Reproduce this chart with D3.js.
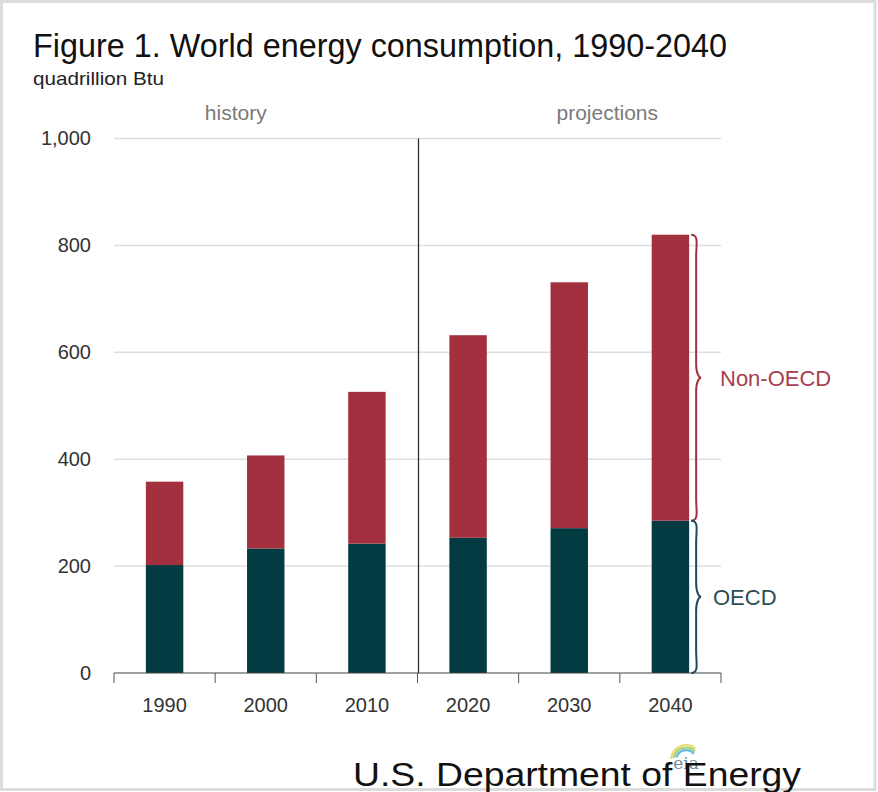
<!DOCTYPE html>
<html>
<head>
<meta charset="utf-8">
<script src="https://cdn.jsdelivr.net/npm/d3@7"></script>
<style>
  html, body { margin: 0; padding: 0; background: #fff; }
  svg { display: block; font-family: "Liberation Sans", Arial, sans-serif; }
</style>
</head>
<body>
<svg id="chart" width="878" height="792"></svg>
<script>
// World energy consumption by region, quadrillion Btu
const years = ["1990", "2000", "2010", "2020", "2030", "2040"];
const oecd = [202, 233, 242, 253, 271, 285];
const nonOecd = [156, 174, 284, 379, 460, 535];
const yTicks = [0, 200, 400, 600, 800, 1000];
const periods = [
  { label: "history", anchor: "2000", shift: -30 },
  { label: "projections", anchor: "2030", shift: 38 }
];

const colors = { oecd: "#033b42", nonOecd: "#a3303f", oecdText: "#2d4d54", nonText: "#a8404f" };

const svg = d3.select("#chart");
const W = 878, H = 792;

// outer frame
svg.append("rect")
  .attr("x", 1.5).attr("y", 1.5)
  .attr("width", W - 4.5).attr("height", H - 4)
  .attr("fill", "#fff").attr("stroke", "#dcdcdc").attr("stroke-width", 3);

const x = d3.scaleBand().domain(years).range([114, 721]).paddingInner(0.63).paddingOuter(0.315);
const y = d3.scaleLinear().domain([0, 1000]).range([673, 138.5]);

// titles (condensed to the narrow face used in the report)
svg.append("text")
  .attr("x", 33).attr("y", 57)
  .attr("font-size", 33).attr("fill", "#111")
  .attr("textLength", 694).attr("lengthAdjust", "spacingAndGlyphs")
  .text("Figure 1. World energy consumption, 1990-2040");
svg.append("text")
  .attr("x", 33).attr("y", 85)
  .attr("font-size", 19).attr("fill", "#222")
  .attr("textLength", 131).attr("lengthAdjust", "spacingAndGlyphs")
  .text("quadrillion  Btu");

// gridlines
svg.append("g")
  .selectAll("line")
  .data(yTicks.filter(d => d > 0))
  .join("line")
  .attr("x1", 114).attr("x2", 721)
  .attr("y1", d => y(d)).attr("y2", d => y(d))
  .attr("stroke", "#dedede").attr("stroke-width", 1.5);

// y-axis labels
const yAxis = d3.axisLeft(y).tickValues(yTicks).tickSize(0).tickPadding(0)
  .tickFormat(d3.format(","));
const gy = svg.append("g").attr("transform", "translate(91,0)").call(yAxis);
gy.select(".domain").remove();
gy.selectAll("text").attr("font-size", 20).attr("fill", "#333")
  .attr("font-family", "'Liberation Sans', Arial, sans-serif");

// stacked bars
const stackData = years.map((yr, i) => ({ year: yr, oecd: oecd[i], nonOecd: nonOecd[i] }));
const series = d3.stack().keys(["oecd", "nonOecd"])(stackData);
svg.append("g")
  .selectAll("g")
  .data(series)
  .join("g")
  .attr("fill", d => colors[d.key])
  .selectAll("rect")
  .data(d => d)
  .join("rect")
  .attr("x", d => x(d.data.year))
  .attr("width", x.bandwidth())
  .attr("y", d => y(d[1]))
  .attr("height", d => y(d[0]) - y(d[1]));

// x-axis with ticks between categories
const xAxisY = y(0);
svg.append("line")
  .attr("x1", 114).attr("x2", 721).attr("y1", xAxisY).attr("y2", xAxisY)
  .attr("stroke", "#444").attr("stroke-width", 1.2);
const boundaries = d3.range(years.length + 1).map(i => 114 + i * (607 / years.length));
svg.append("g").selectAll("line")
  .data(boundaries)
  .join("line")
  .attr("x1", d => d).attr("x2", d => d)
  .attr("y1", xAxisY).attr("y2", xAxisY + 10)
  .attr("stroke", "#555").attr("stroke-width", 1);
svg.append("g").selectAll("text")
  .data(years)
  .join("text")
  .attr("x", d => x(d) + x.bandwidth() / 2)
  .attr("y", 712)
  .attr("text-anchor", "middle")
  .attr("font-size", 20).attr("fill", "#333")
  .text(d => d);

// history / projections divider
const divX = boundaries[3] + 1;
svg.append("line")
  .attr("x1", divX).attr("x2", divX)
  .attr("y1", y(1000)).attr("y2", xAxisY)
  .attr("stroke", "#333").attr("stroke-width", 1.3);

periods.forEach(p => {
  svg.append("text")
    .attr("x", x(p.anchor) + x.bandwidth() / 2 + p.shift).attr("y", 120)
    .attr("text-anchor", "middle")
    .attr("font-size", 21).attr("fill", "#7a7a7a")
    .text(p.label);
});

// curly braces for the last bar
function bracePath(x0, y0, y1, depth) {
  const mid = (y0 + y1) / 2;
  const d = depth;
  return `M${x0},${y0}` +
    ` C${x0 + d * 0.8},${y0} ${x0 + d * 0.5},${y0 + 10} ${x0 + d * 0.5},${y0 + 22}` +
    ` L${x0 + d * 0.5},${mid - 14}` +
    ` C${x0 + d * 0.5},${mid - 4} ${x0 + d * 0.8},${mid} ${x0 + d},${mid}` +
    ` C${x0 + d * 0.8},${mid} ${x0 + d * 0.5},${mid + 4} ${x0 + d * 0.5},${mid + 14}` +
    ` L${x0 + d * 0.5},${y1 - 22}` +
    ` C${x0 + d * 0.5},${y1 - 10} ${x0 + d * 0.8},${y1} ${x0},${y1}`;
}
const last = stackData[stackData.length - 1];
const bx = x(last.year) + x.bandwidth() + 2;
svg.append("path")
  .attr("d", bracePath(bx, y(last.oecd + last.nonOecd), y(last.oecd), 10))
  .attr("fill", "none").attr("stroke", colors.nonOecd).attr("stroke-width", 2);
svg.append("path")
  .attr("d", bracePath(bx, y(last.oecd), y(0), 10))
  .attr("fill", "none").attr("stroke", "#1d4a5c").attr("stroke-width", 2);

svg.append("text")
  .attr("x", 720).attr("y", (y(last.oecd + last.nonOecd) + y(last.oecd)) / 2 + 8)
  .attr("font-size", 22).attr("fill", colors.nonText)
  .text("Non-OECD");
svg.append("text")
  .attr("x", 713).attr("y", (y(last.oecd) + y(0)) / 2 + 8)
  .attr("font-size", 22).attr("fill", colors.oecdText)
  .text("OECD");

// eia logo mark, tucked behind the footer line
const logo = svg.append("g").attr("transform", "translate(686,760)");
[["#e9d35a", 16, -0.2], ["#8fc552", 13.5, -0.1], ["#3fa9d8", 11, 0]].forEach(([c, r, o]) => {
  logo.append("path")
    .attr("d", d3.arc()({ innerRadius: r - 2.2, outerRadius: r, startAngle: -1.3 + o, endAngle: 0.9 + o }))
    .attr("fill", c).attr("opacity", 0.8);
});
logo.append("text")
  .attr("x", 0).attr("y", 9)
  .attr("text-anchor", "middle")
  .attr("font-size", 17).attr("fill", "#6d8a96")
  .attr("font-family", "'DejaVu Serif', serif")
  .text("eia");

// footer
svg.append("text")
  .attr("x", 353).attr("y", 786)
  .attr("font-size", 33).attr("fill", "#111")
  .attr("textLength", 448).attr("lengthAdjust", "spacingAndGlyphs")
  .text("U.S. Department of Energy");
</script>
</body>
</html>
